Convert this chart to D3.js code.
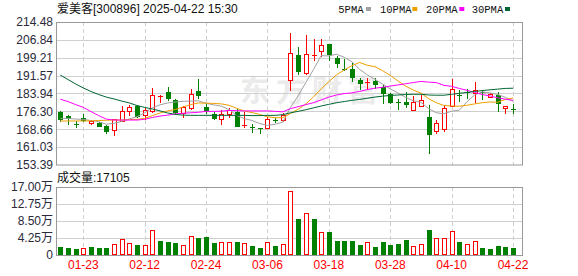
<!DOCTYPE html>
<html><head><meta charset="utf-8">
<script src="https://cdn.jsdelivr.net/npm/d3@7"></script>
<style>html,body{margin:0;padding:0;background:#fff;}svg{display:block;}</style>
</head><body>
<script>
const dates = ["01-20","01-21","01-22","01-23","01-24","01-27","02-05","02-06","02-07","02-10","02-11","02-12","02-13","02-14","02-17","02-18","02-19","02-20","02-21","02-24","02-25","02-26","02-27","02-28","03-03","03-04","03-05","03-06","03-07","03-10","03-11","03-12","03-13","03-14","03-17","03-18","03-19","03-20","03-21","03-24","03-25","03-26","03-27","03-28","03-31","04-01","04-02","04-03","04-07","04-08","04-09","04-10","04-11","04-14","04-15","04-16","04-17","04-18","04-21","04-22"];
const open  = [175.9,174.4,171.1,173.5,171.5,171.5,170.1,168.2,172.3,176.3,178.6,174.9,176.5,182.9,184.6,181.2,175.7,177.9,185.1,178.0,175.0,172.9,175.3,176.2,169.9,169.6,169.3,169.1,172.6,172.6,189.6,200.4,192.6,200.3,202.1,205.1,199.2,194.6,194.3,189.7,188.5,189.1,186.8,183.6,180.3,180.4,177.0,178.6,173.8,168.0,168.6,178.7,183.4,184.6,184.0,184.5,182.6,183.3,177.6,177.2];
const high  = [176.3,174.8,172.2,175.0,172.3,171.9,170.5,173.2,178.6,178.9,178.9,177.9,186.4,183.1,186.9,181.5,178.7,185.7,190.1,179.3,175.9,176.9,177.9,177.2,176.2,170.8,169.4,173.8,173.5,175.5,209.9,203.9,208.9,207.2,207.2,205.2,199.9,198.7,197.1,190.4,190.7,190.4,187.6,184.0,181.5,184.4,182.9,183.2,179.0,172.6,179.0,190.0,185.4,185.9,189.0,185.4,184.2,184.7,178.6,179.5];
const low   = [172.4,170.8,169.8,172.4,171.1,170.0,167.2,166.3,172.1,174.7,173.9,173.0,175.9,180.4,181.2,175.2,173.8,177.4,181.9,175.7,173.0,170.8,173.8,170.0,169.7,167.4,166.9,169.0,171.8,172.3,185.6,192.3,192.4,198.3,200.0,198.3,195.4,194.0,189.3,186.0,185.9,186.2,180.0,180.0,177.2,178.3,176.9,178.5,158.6,167.2,168.0,178.5,180.9,181.9,180.4,181.5,182.4,176.6,175.5,175.7];
const close = [173.0,173.6,170.8,172.6,172.2,170.2,168.1,172.9,176.5,178.0,174.5,176.8,183.3,183.0,182.1,176.2,178.3,183.7,183.5,176.9,173.3,175.0,176.9,170.2,170.4,169.5,168.6,173.0,172.4,174.8,201.1,193.7,200.8,200.4,204.6,200.7,197.1,194.3,190.9,188.3,188.8,187.9,184.0,180.4,180.1,179.3,180.2,181.2,166.5,171.2,177.6,185.7,183.2,184.4,185.4,184.3,183.7,179.7,178.6,177.1];
const volume = [2.08,1.83,1.58,1.75,2.08,1.83,1.83,2.75,3.92,3.0,2.5,2.5,6.17,3.5,3.25,3.0,2.42,4.75,4.33,4.58,3.08,3.25,3.17,3.25,3.0,2.33,1.83,3.25,2.33,2.75,16.0,9.0,10.42,9.0,5.67,5.75,3.5,3.5,3.5,2.5,3.17,2.0,3.25,2.5,2.75,3.75,2.25,2.75,6.25,4.25,4.25,5.92,3.25,2.75,3.5,1.75,1.5,2.25,2.0,1.71];
const volUp = [0,0,0,1,0,0,0,1,1,1,0,1,1,0,0,0,1,1,0,0,0,1,1,0,1,0,0,1,0,1,1,0,1,0,1,0,0,0,0,0,1,0,0,0,0,0,1,1,0,1,1,1,0,1,1,0,0,0,0,0];
const ma5  = [173.3,173.3,173.0,172.9,172.4,171.9,170.8,171.2,172.0,173.1,174.0,175.7,177.8,179.1,179.9,180.3,180.6,180.7,180.8,179.7,179.1,178.5,177.1,174.5,173.2,172.4,171.1,170.3,170.8,171.7,178.0,183.0,188.6,194.2,200.1,200.0,200.7,199.4,197.5,194.3,191.9,190.0,188.0,185.9,184.2,182.3,180.8,180.2,177.5,175.7,175.3,176.4,176.8,180.4,183.3,184.6,184.2,183.5,182.3,180.7];
const ma10 = [172.2,172.2,172.2,172.2,172.2,172.4,172.5,172.6,172.6,172.8,172.9,173.3,174.5,175.6,176.5,177.1,178.2,179.2,179.9,179.8,179.7,179.5,178.9,177.6,176.4,175.8,175.0,174.0,173.6,173.6,175.4,177.2,179.5,182.5,185.9,189.0,191.9,194.0,195.8,197.2,196.0,195.4,193.7,191.7,189.3,187.1,185.4,184.1,181.7,180.0,178.8,178.6,178.5,178.9,179.5,180.0,180.3,180.2,181.4,182.0];
const ma20 = [181.5,180.5,179.2,178.0,176.2,174.5,173.0,172.6,172.6,172.6,172.6,172.9,173.7,174.3,174.7,175.2,175.5,175.7,175.9,176.3,176.3,176.4,176.7,176.6,176.5,176.5,176.5,176.5,176.3,176.1,177.5,178.3,179.2,180.0,181.2,182.4,183.3,183.9,184.2,184.8,185.6,186.2,186.6,187.1,187.6,188.1,188.6,189.1,188.8,188.6,187.4,187.0,186.1,185.3,184.4,183.5,182.9,182.1,181.5,181.0];
const ma30 = [191.8,189.9,188.0,186.3,184.8,183.5,182.4,181.6,180.7,179.9,178.8,178.0,177.3,176.5,175.6,175.0,174.7,174.6,174.6,174.6,174.6,174.6,174.6,174.6,174.6,174.5,174.5,174.6,174.6,174.9,175.7,176.3,177.0,177.8,178.6,179.3,180.0,180.5,181.0,181.4,181.9,182.4,182.8,183.1,183.3,183.5,183.6,183.6,183.3,183.2,183.2,183.6,184.0,184.4,184.8,185.2,185.5,185.8,186.1,186.2];
const priceTicks = [153.39,161.03,168.66,176.30,183.94,191.57,199.21,206.84,214.48];
const volTicks = [0,4.25,8.50,12.75,17.00];
const volTickLabels = ["0","4.25万","8.50万","12.75万","17.00万"];
const dateTicks = ["01-23","02-12","02-24","03-06","03-18","03-28","04-10","04-22"];
const maNames = ["5PMA","10PMA","20PMA","30PMA"];
const maSeries = [ma5, ma10, ma20, ma30];
const title = "爱美客[300896] 2025-04-22 15:30";
const volTitle = "成交量:17105";

const W = 578, H = 276;
const L = 56.5, R = 522.5;
const RED = "#ff0000", GREEN = "#008000";
const maColors = ["#a0a0a0", "#f0a000", "#ff00ff", "#006633"];
const sansFont = "'Liberation Sans', Arial, 'Noto Sans CJK SC', sans-serif";

const svg = d3.select("body").append("svg").attr("width", W).attr("height", H);
svg.append("rect").attr("width", W).attr("height", H).attr("fill", "#fff");

const x = d3.scalePoint().domain(dates).range([60.3, 513.0]);
const y = d3.scaleLinear().domain([153.39, 214.48]).range([165, 22]);
const yv = d3.scaleLinear().domain([0, 17]).range([255, 187]);
const px = v => Math.round(v) + 0.5;

// watermark
svg.append("text").attr("x", 240).attr("y", 101).text("东方财富")
  .attr("font-family", "'Noto Sans CJK SC', sans-serif").attr("font-weight", "bold")
  .attr("font-size", 30).attr("letter-spacing", 6).attr("fill", "#ebebeb");

// grids
const grid = svg.append("g");
priceTicks.slice(1, -1).forEach(v => {
  grid.append("line").attr("x1", L).attr("x2", R).attr("y1", px(y(v))).attr("y2", px(y(v)))
    .attr("stroke", "#cfcfcf");
});
volTicks.slice(1, -1).forEach(v => {
  grid.append("line").attr("x1", L).attr("x2", R).attr("y1", px(yv(v))).attr("y2", px(yv(v)))
    .attr("stroke", "#cfcfcf");
});
dateTicks.forEach(d => {
  const xx = px(x(d));
  grid.append("line").attr("x1", xx).attr("x2", xx).attr("y1", 22).attr("y2", 165)
    .attr("stroke", "#cfcfcf").attr("stroke-dasharray", "4,3");
  grid.append("line").attr("x1", xx).attr("x2", xx).attr("y1", 187).attr("y2", 255)
    .attr("stroke", "#cfcfcf").attr("stroke-dasharray", "4,3");
});

// candles
const cg = svg.append("g");
dates.forEach((d, i) => {
  const cx = px(x(d));
  const o = open[i], c = close[i];
  const up = c >= o;
  const col = up ? RED : GREEN;
  const top = Math.round(y(Math.max(o, c))), bot = Math.round(y(Math.min(o, c)));
  cg.append("line").attr("x1", cx).attr("x2", cx)
    .attr("y1", Math.round(y(high[i]))).attr("y2", Math.round(y(low[i])) + 1).attr("stroke", col);
  if (bot - top < 2) {
    cg.append("rect").attr("x", cx - 2.5).attr("y", top).attr("width", 5).attr("height", 1).attr("fill", col);
  } else if (up) {
    cg.append("rect").attr("x", cx - 2).attr("y", top + 0.5).attr("width", 4).attr("height", bot - top)
      .attr("fill", "#fff").attr("stroke", RED);
  } else {
    cg.append("rect").attr("x", cx - 2.5).attr("y", top).attr("width", 5).attr("height", bot - top + 1)
      .attr("fill", GREEN);
  }
});

// moving averages
maSeries.forEach((s, k) => {
  const line = d3.line().x((v, i) => x(dates[i])).y(v => y(v));
  svg.append("path").attr("d", line(s)).attr("fill", "none").attr("stroke", maColors[k]).attr("stroke-width", 1);
});

// volume bars
const vg = svg.append("g");
dates.forEach((d, i) => {
  const cx = px(x(d));
  const top = Math.round(yv(volume[i]));
  const h = 255 - top;
  if (volUp[i]) {
    vg.append("rect").attr("x", cx - 2).attr("y", top + 0.5).attr("width", 4).attr("height", h - 1)
      .attr("fill", "#fff").attr("stroke", RED);
  } else {
    vg.append("rect").attr("x", cx - 2.5).attr("y", top).attr("width", 5).attr("height", h)
      .attr("fill", GREEN);
  }
});

// frames
svg.append("rect").attr("x", 56.5).attr("y", 22.5).attr("width", 466).attr("height", 142.5)
  .attr("fill", "none").attr("stroke", "#999");
svg.append("rect").attr("x", 56.5).attr("y", 187.5).attr("width", 466).attr("height", 68)
  .attr("fill", "none").attr("stroke", "#999");

// y labels
priceTicks.forEach(v => {
  svg.append("text").attr("x", 53).attr("y", y(v)).attr("dy", "0.36em").attr("text-anchor", "end")
    .attr("font-family", sansFont).attr("font-size", 12).attr("fill", "#2a2a3a").text(v.toFixed(2));
});
volTicks.forEach((v, k) => {
  svg.append("text").attr("x", 53).attr("y", yv(v)).attr("dy", "0.36em").attr("text-anchor", "end")
    .attr("font-family", sansFont).attr("font-size", 12).attr("fill", "#2a2a3a").text(volTickLabels[k]);
});

// x labels
dateTicks.forEach(d => {
  svg.append("text").attr("x", x(d)).attr("y", 269).attr("text-anchor", "middle")
    .attr("font-family", sansFont).attr("font-size", 12).attr("fill", RED).text(d);
});

// titles
svg.append("text").attr("x", 57).attr("y", 13).attr("font-family", sansFont).attr("font-size", 12)
  .attr("fill", "#111").text(title);
svg.append("text").attr("x", 57).attr("y", 182).attr("font-family", sansFont).attr("font-size", 12)
  .attr("fill", "#111").text(volTitle);

// legend
const legX = [338.3, 380, 426, 471.7];
const sqX = [366, 412.3, 459.3, 505];
maNames.forEach((n, k) => {
  svg.append("text").attr("x", legX[k]).attr("y", 12.5)
    .attr("font-family", "'Liberation Mono', monospace").attr("font-size", 10.5).attr("fill", "#111").text(n);
  svg.append("rect").attr("x", sqX[k]).attr("y", 7).attr("width", 5).attr("height", 4).attr("fill", maColors[k]);
});
</script>
</body></html>
